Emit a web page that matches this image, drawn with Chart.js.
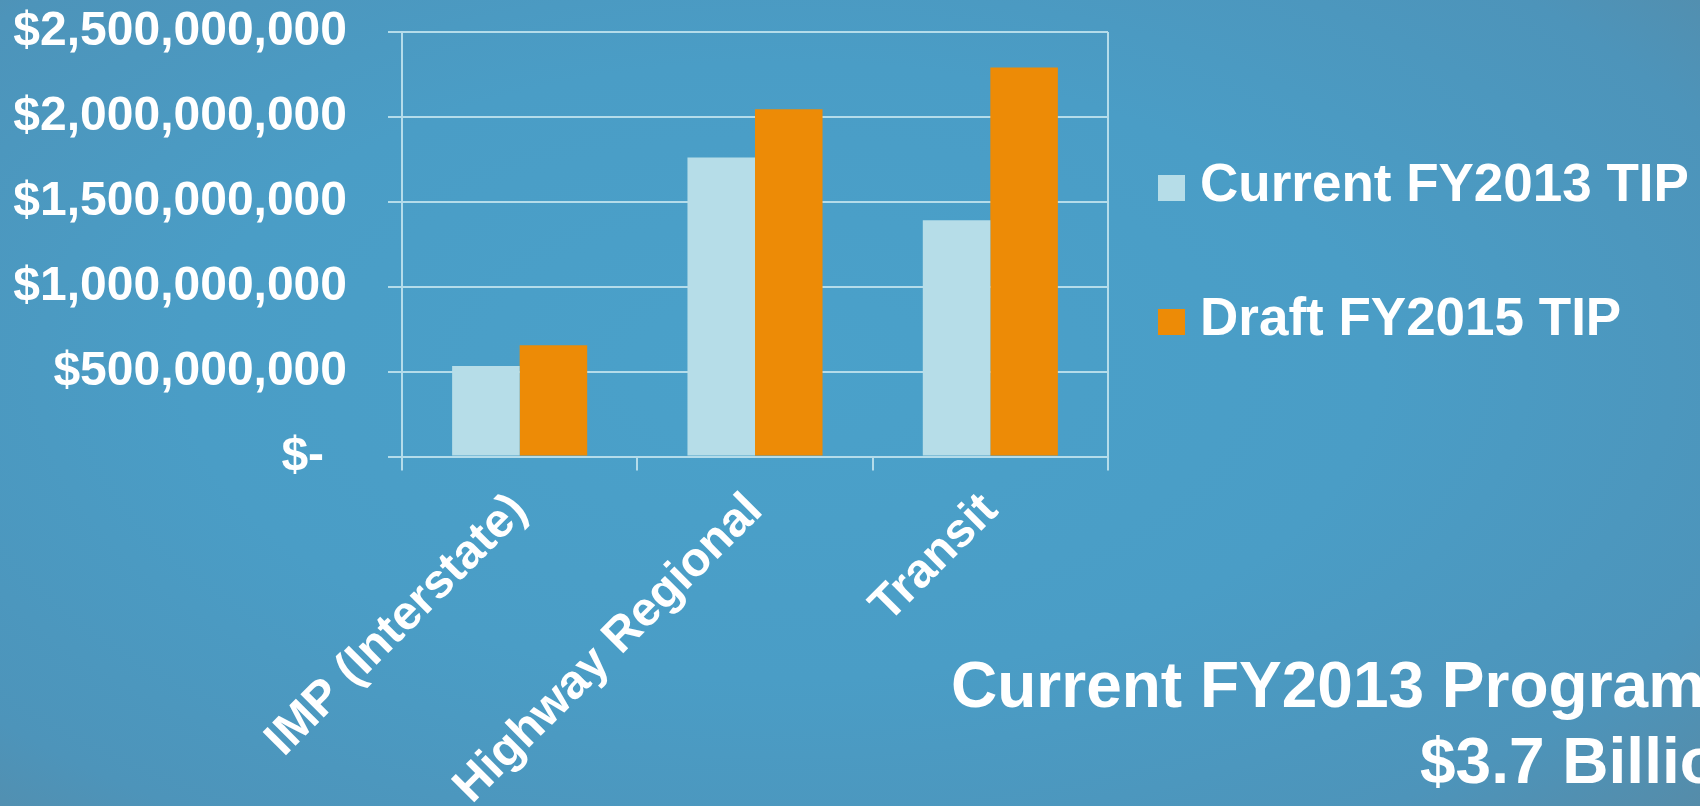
<!DOCTYPE html>
<html>
<head>
<meta charset="utf-8">
<title>TIP Funding by Program Area</title>
<script src="https://cdn.jsdelivr.net/npm/chart.js@4.4.1/dist/chart.umd.min.js"></script>
<style>
  html, body { margin: 0; padding: 0; width: 1700px; height: 806px; overflow: hidden; }
  body {
    position: relative;
    font-family: "Liberation Sans", Arial, sans-serif;
    background: radial-gradient(ellipse 78% 85% at 46% 46%, #4aa1ca 0%, #4a9dc6 45%, #4d94ba 78%, #5889a3 100%);
  }
  #wrap { position: absolute; left: 0; top: 0; width: 1700px; height: 806px; }
  .note { position: absolute; color: #ffffff; font-weight: bold; font-size: 64px; line-height: 64px; white-space: nowrap; }
</style>
</head>
<body>
<div id="wrap"><canvas id="tipChart"></canvas></div>
<div class="note" id="noteTitle" style="left:951px; top:653px;">Current FY2013 Program</div>
<div class="note" id="noteTotal" style="left:1420px; top:729px;"></div>
<script>
// Program areas and funding per TIP cycle (US dollars)
const categories = ['IMP (Interstate)', 'Highway Regional', 'Transit'];
const seriesNames = ['Current FY2013 TIP', 'Draft FY2015 TIP'];
const currentFY2013 = [533000000, 1761000000, 1392000000];
const draftFY2015 = [655000000, 2045000000, 2291000000];

// Value axis ticks, accounting style (zero shown as a dash, set in from the digits)
const yTickValues = [0, 500000000, 1000000000, 1500000000, 2000000000, 2500000000];
const yTickLabels = ['$- \u2009', '$500,000,000', '$1,000,000,000', '$1,500,000,000', '$2,000,000,000', '$2,500,000,000'];

const FONT = '"Liberation Sans", Arial, sans-serif';
const GRID = '#b4dcea';
const COLORS = ['#b6dde8', '#ed8b06'];

// Program total for the current TIP
const currentTotal = currentFY2013.reduce((a, b) => a + b, 0);
document.getElementById('noteTotal').textContent = '$' + (currentTotal / 1e9).toFixed(1) + ' Billion';

// Right-hand edge of the plot frame
const plotFrame = {
  id: 'plotFrame',
  beforeDatasetsDraw(chart) {
    const { ctx, chartArea } = chart;
    ctx.save();
    ctx.strokeStyle = GRID;
    ctx.lineWidth = 2;
    ctx.beginPath();
    ctx.moveTo(Math.round(chartArea.right), chartArea.top);
    ctx.lineTo(Math.round(chartArea.right), chartArea.bottom);
    ctx.stroke();
    ctx.restore();
  }
};

// Legend column to the right of the plot
const legendLayout = { offsetX: 50, firstRow: 156, rowGap: 134, boxW: 27, boxH: 26, textGap: 15 };
const sideLegend = {
  id: 'sideLegend',
  afterDraw(chart) {
    const { ctx, chartArea } = chart;
    const L = legendLayout;
    ctx.save();
    ctx.font = 'bold 53px ' + FONT;
    ctx.textBaseline = 'middle';
    ctx.textAlign = 'left';
    chart.data.datasets.forEach((ds, i) => {
      const cy = chartArea.top + L.firstRow + i * L.rowGap;
      const x = chartArea.right + L.offsetX;
      ctx.fillStyle = ds.backgroundColor;
      ctx.fillRect(x, cy - L.boxH / 2, L.boxW, L.boxH);
      ctx.fillStyle = '#ffffff';
      ctx.fillText(ds.label, x + L.boxW + L.textGap, cy - 2);
    });
    ctx.restore();
  }
};

new Chart(document.getElementById('tipChart'), {
  type: 'bar',
  data: {
    labels: categories,
    datasets: [
      { label: seriesNames[0], data: currentFY2013, backgroundColor: COLORS[0], borderWidth: 0, categoryPercentage: 0.574, barPercentage: 1 },
      { label: seriesNames[1], data: draftFY2015, backgroundColor: COLORS[1], borderWidth: 0, categoryPercentage: 0.574, barPercentage: 1 }
    ]
  },
  options: {
    responsive: true,
    maintainAspectRatio: false,
    animation: false,
    events: [],
    layout: { padding: { top: 32, right: 592, bottom: 0, left: 0 } },
    plugins: {
      legend: { display: false },
      tooltip: { enabled: false },
      title: { display: false }
    },
    scales: {
      x: {
        offset: true,
        grid: { offset: true, drawOnChartArea: false, drawTicks: true, tickLength: 14, color: GRID, lineWidth: 2 },
        border: { display: true, color: GRID, width: 2 },
        ticks: {
          color: '#ffffff',
          font: { family: FONT, size: 48, weight: 'bold' },
          minRotation: 45,
          maxRotation: 45,
          padding: 12,
          autoSkip: false
        },
        afterFit(scale) {
          scale.height = 349.5;
          scale.paddingLeft = 0;
          scale.paddingRight = 0;
        }
      },
      y: {
        min: yTickValues[0],
        max: yTickValues[yTickValues.length - 1],
        grid: { color: GRID, lineWidth: 2, drawTicks: true, tickLength: 14 },
        border: { display: true, color: GRID, width: 2 },
        ticks: {
          stepSize: yTickValues[1] - yTickValues[0],
          color: '#ffffff',
          font: { family: FONT, size: 48, weight: 'bold' },
          padding: 41,
          callback: (value) => {
            const i = yTickValues.indexOf(value);
            return i >= 0 ? yTickLabels[i] : '';
          }
        },
        afterFit(scale) {
          scale.width = 402;
          scale.paddingTop = 0;
          scale.paddingBottom = 0;
        }
      }
    }
  },
  plugins: [plotFrame, sideLegend]
});
</script>
</body>
</html>
